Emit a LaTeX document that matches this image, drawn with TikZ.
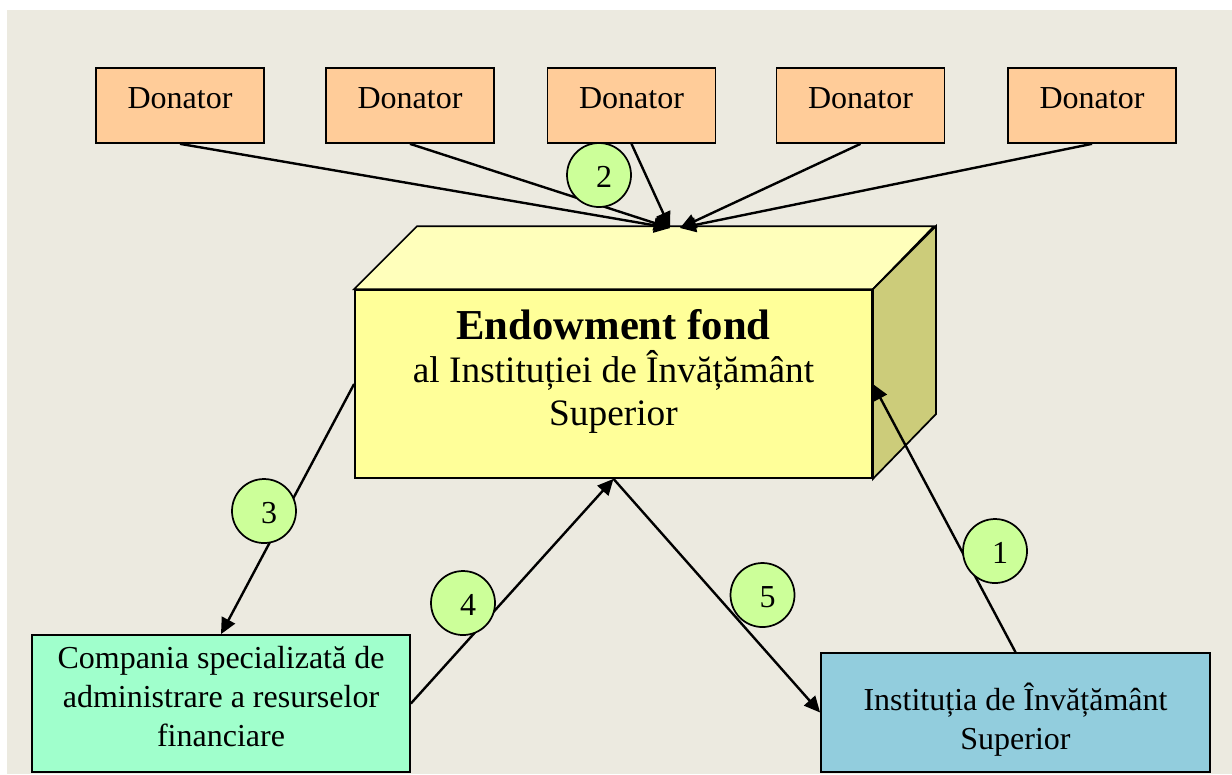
\documentclass[tikz,border=0pt]{standalone}
\usepackage{fontspec}
\setmainfont{Liberation Serif}
\usetikzlibrary{arrows.meta}
\definecolor{bgbeige}{RGB}{236,234,224}
\definecolor{donorpeach}{RGB}{255,204,153}
\definecolor{fundfront}{RGB}{255,255,153}
\definecolor{fundtop}{RGB}{255,255,187}
\definecolor{fundside}{RGB}{204,204,122}
\definecolor{compgreen}{RGB}{160,255,204}
\definecolor{instblue}{RGB}{146,205,221}
\definecolor{stepgreen}{RGB}{204,255,153}

\begin{document}
\begin{tikzpicture}[x=0.375pt, y=-0.375pt,
		box/.style={draw, rectangle, line width=0.65pt, inner ysep=1pt, font=\fontsize{12}{14.7}\selectfont, align=center},
		donor/.style={box, fill=donorpeach, minimum width=63pt, minimum height=28.1pt, text height=8pt, text depth=5.4pt},
		face/.style={draw, line width=0.65pt},
		num/.style={draw, circle, line width=0.65pt, fill=stepgreen, minimum size=24pt, inner sep=0pt, font=\fontsize{12}{14}\selectfont, text height=9pt, text depth=0pt, execute at begin node=\hspace*{3.8pt}},
		link/.style={->, >={Triangle[length=6pt, width=5.5pt]}, line width=0.9pt}]
				\useasboundingbox (0,0) rectangle (1232,774);
				\fill[bgbeige] (7,10) rectangle (1232,774);
				% donors
				\node[donor] (D1)at(180, 105.5) {Donator};
				\node[donor] (D2)at(410, 105.5) {Donator};
				\node[donor] (D3)at(631.5, 105.5) {Donator};
				\node[donor] (D4)at(860.5, 105.5) {Donator};
				\node[donor] (D5)at(1092, 105.5) {Donator};
				% the fund, front face with its top and side
				\node[box, fill=fundfront, minimum width=193.9pt, minimum height=70.5pt, font=\fontsize{14}{16}\selectfont, text height=33.8pt, text depth=3pt] (Fund)at(613.5, 384) {{\fontsize{16}{18}\selectfont\bfseries Endowment fond}\\al Instituției de Învățământ\\Superior};
				\draw[face, fill=fundtop] (Fund.north west) -- ++(63,-63) -- ++(517,0) -- (Fund.north east) -- cycle;
				\draw[face, fill=fundside] (Fund.north east) -- ++(63,-63) -- ++(0,188) -- (Fund.south east) -- cycle;
				\coordinate (inL)at(670, 228);
				\coordinate (inR)at(680, 228);
				% company and institution
				\node[box, fill=compgreen, minimum width=141.75pt, minimum height=51.4pt, text height=32.6pt, text depth=0pt] (Comp)at(221, 703.5) {Compania specializată de\\administrare a resurselor\\financiare};
				\node[box, fill=instblue, minimum width=145.9pt, minimum height=44.6pt, text height=30.7pt, text depth=2.6pt] (Inst)at(1015.5, 712.5) {Instituția de Învățământ\\Superior};
				% flows
				\draw[link] (D1.south) -- (inL);
				\draw[link] (D2.south) -- (inL);
				\draw[link] (D3.south) -- (inL);
				\draw[link] (D4.south) -- (inR);
				\draw[link] (D5.south) -- (inR);
				\draw[link] (Inst.north) -- (Fund.east);
				\draw[link] (Fund.west) -- (Comp.north);
				\draw[link] (Comp.east) -- (Fund.south);
				\draw[link] (Fund.south) -- (Inst.west);
				% step numbers
				\node[num] (N1)at(995, 551) {1};
				\node[num] (N2)at(599, 175) {2};
				\node[num] (N3)at(264, 511) {3};
				\node[num] (N4)at(463, 603) {4};
				\node[num] (N5)at(762.5, 595) {5};
			\end{tikzpicture}
\end{document}
